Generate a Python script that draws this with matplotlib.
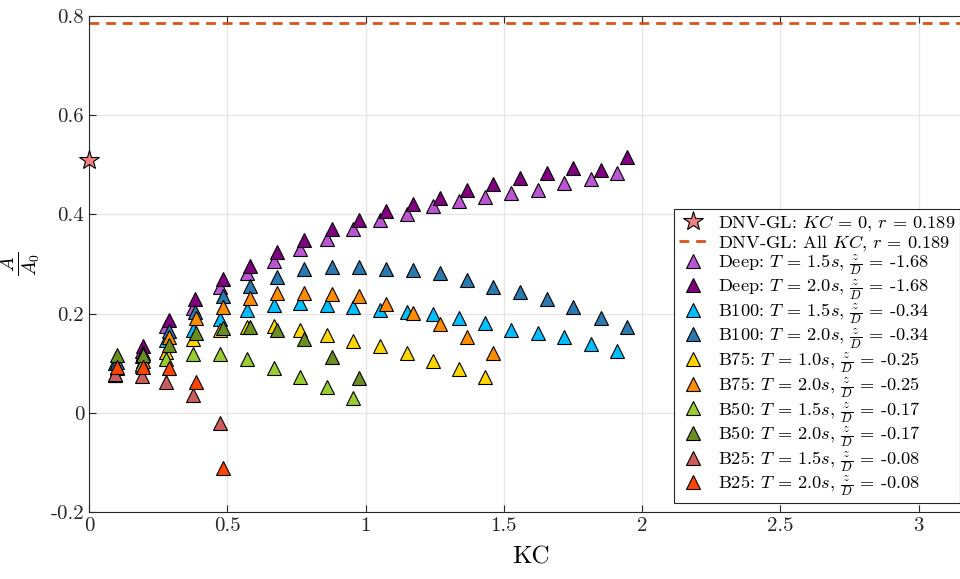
import matplotlib
matplotlib.use("Agg")
import matplotlib.pyplot as plt

plt.rcParams['font.family'] = 'serif'
plt.rcParams['font.serif'] = ['cmr10']
plt.rcParams['mathtext.fontset'] = 'cm'
plt.rcParams['axes.unicode_minus'] = False
plt.rcParams['axes.formatter.use_mathtext'] = True

# DNV-GL references
dnv_kc0 = 0.51
dnv_all = 0.785

# measured series (KC, A/A0)
deep15_kc = [0.19, 0.28, 0.375, 0.474, 0.570, 0.669, 0.763, 0.860, 0.956, 1.052,
             1.149, 1.245, 1.339, 1.433, 1.527, 1.624, 1.718, 1.814, 1.909]
deep15_a = [0.125, 0.175, 0.211, 0.254, 0.281, 0.307, 0.330, 0.351, 0.370, 0.389,
            0.401, 0.416, 0.428, 0.436, 0.444, 0.450, 0.463, 0.471, 0.484]

deep20_kc = [0.195, 0.29, 0.383, 0.484, 0.582, 0.680, 0.778, 0.878, 0.976, 1.074,
             1.171, 1.269, 1.366, 1.462, 1.559, 1.655, 1.752, 1.851, 1.947]
deep20_a = [0.135, 0.187, 0.229, 0.269, 0.296, 0.324, 0.348, 0.370, 0.389, 0.407,
            0.420, 0.434, 0.449, 0.461, 0.474, 0.483, 0.493, 0.489, 0.516]

b100_15_kc = [0.095, 0.19, 0.28, 0.375, 0.474, 0.570, 0.669, 0.763, 0.860, 0.956,
              1.052, 1.149, 1.245, 1.339, 1.433, 1.527, 1.624, 1.718, 1.814, 1.909]
b100_15_a = [0.100, 0.115, 0.147, 0.166, 0.189, 0.207, 0.218, 0.221, 0.218, 0.214,
             0.207, 0.204, 0.199, 0.191, 0.182, 0.167, 0.160, 0.152, 0.139, 0.125]

b100_20_kc = [0.1, 0.195, 0.29, 0.383, 0.484, 0.582, 0.680, 0.778, 0.878, 0.976,
              1.074, 1.171, 1.269, 1.366, 1.462, 1.559, 1.655, 1.752, 1.851, 1.947]
b100_20_a = [0.103, 0.121, 0.164, 0.204, 0.236, 0.256, 0.273, 0.289, 0.293, 0.293,
             0.289, 0.288, 0.281, 0.268, 0.253, 0.243, 0.229, 0.213, 0.192, 0.173]

b75_10_kc = [0.095, 0.19, 0.28, 0.375, 0.474, 0.570, 0.669, 0.763, 0.860, 0.956,
             1.052, 1.149, 1.245, 1.339, 1.433]
b75_10_a = [0.077, 0.095, 0.123, 0.148, 0.166, 0.173, 0.174, 0.166, 0.157, 0.144,
            0.134, 0.120, 0.105, 0.088, 0.073]

b75_20_kc = [0.1, 0.195, 0.29, 0.387, 0.484, 0.582, 0.680, 0.778, 0.878, 0.976,
             1.074, 1.171, 1.269, 1.366, 1.462]
b75_20_a = [0.090, 0.105, 0.152, 0.191, 0.213, 0.232, 0.241, 0.241, 0.240, 0.236,
            0.219, 0.201, 0.179, 0.152, 0.121]

b50_15_kc = [0.095, 0.19, 0.28, 0.375, 0.474, 0.570, 0.669, 0.763, 0.860, 0.956]
b50_15_a = [0.077, 0.098, 0.108, 0.119, 0.118, 0.108, 0.091, 0.072, 0.053, 0.030]

b50_20_kc = [0.1, 0.195, 0.29, 0.387, 0.484, 0.582, 0.680, 0.778, 0.878, 0.976]
b50_20_a = [0.117, 0.117, 0.136, 0.160, 0.171, 0.173, 0.167, 0.148, 0.113, 0.070]

b25_15_kc = [0.095, 0.19, 0.28, 0.375, 0.474]
b25_15_a = [0.079, 0.075, 0.063, 0.036, -0.021]

b25_20_kc = [0.1, 0.195, 0.29, 0.387, 0.484]
b25_20_a = [0.092, 0.092, 0.090, 0.063, -0.111]

series = [
    (deep15_kc, deep15_a, '#BA55D3', r'Deep: $T$ = 1.5$s$, $\frac{z}{D}$ = -1.68'),
    (deep20_kc, deep20_a, '#800080', r'Deep: $T$ = 2.0$s$, $\frac{z}{D}$ = -1.68'),
    (b100_15_kc, b100_15_a, '#00BFFF', r'B100: $T$ = 1.5$s$, $\frac{z}{D}$ = -0.34'),
    (b100_20_kc, b100_20_a, '#2A7AB0', r'B100: $T$ = 2.0$s$, $\frac{z}{D}$ = -0.34'),
    (b75_10_kc, b75_10_a, '#FFD700', r'B75: $T$ = 1.0$s$, $\frac{z}{D}$ = -0.25'),
    (b75_20_kc, b75_20_a, '#FF8C00', r'B75: $T$ = 2.0$s$, $\frac{z}{D}$ = -0.25'),
    (b50_15_kc, b50_15_a, '#9ACD32', r'B50: $T$ = 1.5$s$, $\frac{z}{D}$ = -0.17'),
    (b50_20_kc, b50_20_a, '#6B8E23', r'B50: $T$ = 2.0$s$, $\frac{z}{D}$ = -0.17'),
    (b25_15_kc, b25_15_a, '#CD5C5C', r'B25: $T$ = 1.5$s$, $\frac{z}{D}$ = -0.08'),
    (b25_20_kc, b25_20_a, '#FF4500', r'B25: $T$ = 2.0$s$, $\frac{z}{D}$ = -0.08'),
]

xticks = [0, 0.5, 1, 1.5, 2, 2.5, 3]
xlabels = ['0', '0.5', '1', '1.5', '2', '2.5', '3']
yticks = [-0.2, 0, 0.2, 0.4, 0.6, 0.8]
ylabels = ['-0.2', '0', '0.2', '0.4', '0.6', '0.8']

fig = plt.figure(figsize=(9.6, 5.79), dpi=100)
ax = fig.add_axes([0.0927, 0.1157, 0.9217, 0.8567])

ax.grid(True, color='#e6e6e6', lw=1)
ax.set_axisbelow(True)

star, = ax.plot([0], [dnv_kc0], ls='none', marker='*', ms=15, mfc='#F08080',
                mec='black', mew=0.8, clip_on=False, zorder=5)
dash, = ax.plot([0, 3.2], [dnv_all, dnv_all], color='#D95319', lw=2, ls=(0, (3.5, 2.5)))

handles = [star, dash]
labels = [r'DNV-GL: $KC$ = 0, $r$ = 0.189', r'DNV-GL: All $KC$, $r$ = 0.189']
for kc, a, c, lab in series:
    h, = ax.plot(kc, a, ls='none', marker='^', ms=10, mfc=c, mec='black', mew=0.8, zorder=4)
    handles.append(h)
    labels.append(lab)

ax.set_xlim(0, 3.2)
ax.set_ylim(-0.2, 0.8)
ax.set_xticks(xticks)
ax.set_xticklabels(xlabels)
ax.set_yticks(yticks)
ax.set_yticklabels(ylabels)
ax.tick_params(direction='in', length=5, width=0.8, top=True, right=False,
               labelsize=15, colors='#262626')
for s in ['left', 'bottom', 'top']:
    ax.spines[s].set_color('#262626')
ax.spines['right'].set_visible(False)

ax.set_xlabel('KC', fontsize=18, labelpad=8)
ax.set_ylabel(r'$\frac{A}{A_0}$', fontsize=20, labelpad=6)

leg = ax.legend(handles, labels, loc='lower right', bbox_to_anchor=(0.984, 0.018),
                fontsize=13.2, frameon=True, fancybox=False, framealpha=1,
                edgecolor='#262626', handlelength=1.5, handletextpad=0.6,
                labelspacing=-0.01, borderpad=0.25, borderaxespad=0)
leg.get_frame().set_linewidth(0.8)

fig.savefig('out.png', dpi=100)
